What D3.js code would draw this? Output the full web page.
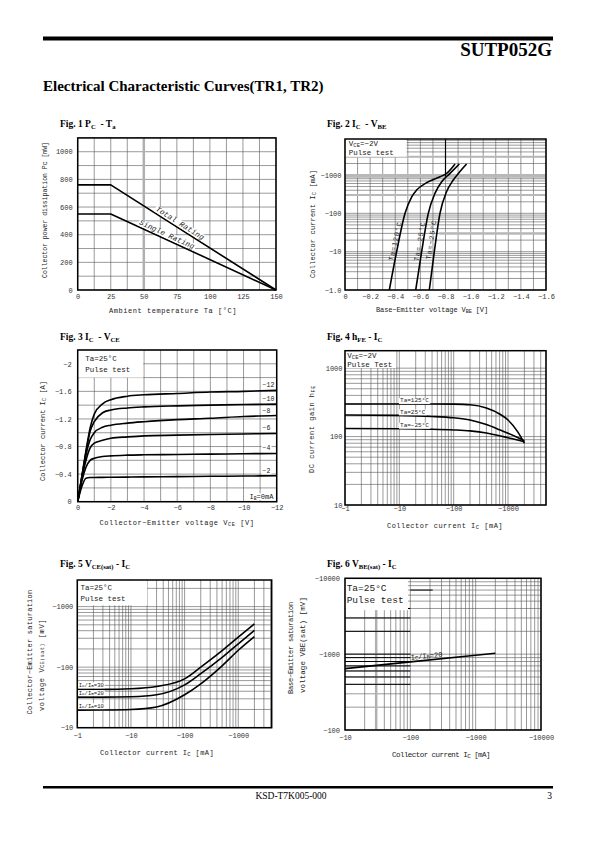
<!DOCTYPE html>
<html><head><meta charset="utf-8">
<script src="https://cdn.jsdelivr.net/npm/d3@7"></script>
<style>
body{margin:0;background:#fff}
svg{display:block}
text{white-space:pre}
</style></head><body>
<svg id="page" width="595" height="842"></svg>
<script>
// ---------------- DATA ----------------
const fig1Temp = [0, 25, 150];
const fig1Total = [760, 760, 0];
const fig1Single = [550, 550, 0];
const fig1XTicks = [0, 25, 50, 75, 100, 125, 150];
const fig1YTicks = [0, 200, 400, 600, 800, 1000];

const fig2Vbe120 = [0.353, 0.411, 0.478, 0.531, 0.570, 0.650, 0.756, 0.809, 0.876];
const fig2Ic120  = [1, 10, 100, 270, 405, 631, 900, 1100, 1940];
const fig2Vbe25  = [0.563, 0.610, 0.663, 0.716, 0.770, 0.836, 0.910];
const fig2Ic25   = [1, 10, 100, 333, 670, 1100, 1940];
const fig2VbeM25 = [0.671, 0.711, 0.756, 0.809, 0.862, 0.915, 0.968];
const fig2IcM25  = [1, 10, 100, 370, 740, 1230, 1940];
const fig2XTicks = [0, 0.2, 0.4, 0.6, 0.8, 1.0, 1.2, 1.4, 1.6];
const fig2XLabels = ["0","−0.2","−0.4","−0.6","−0.8","−1.0","−1.2","−1.4","−1.6"];
const fig2YTicks = [1, 10, 100, 1000];
const fig2YLabels = ["−1.0","−10","−100","−1000"];

const fig3Vce = [0, 0.25, 0.5, 0.75, 1, 1.5, 2, 3, 4, 6, 8, 10, 12];
const fig3Ib2  = [0, 0.22, 0.34, 0.35, 0.352, 0.353, 0.355, 0.357, 0.36, 0.364, 0.368, 0.372, 0.376];
const fig3Ib4  = [0, 0.30, 0.50, 0.60, 0.63, 0.655, 0.665, 0.675, 0.68, 0.685, 0.69, 0.695, 0.70];
const fig3Ib6  = [0, 0.33, 0.60, 0.78, 0.85, 0.89, 0.92, 0.94, 0.955, 0.965, 0.975, 0.982, 0.99];
const fig3Ib8  = [0, 0.35, 0.68, 0.90, 1.00, 1.08, 1.11, 1.14, 1.16, 1.19, 1.21, 1.235, 1.25];
const fig3Ib10 = [0, 0.36, 0.72, 1.02, 1.16, 1.29, 1.33, 1.36, 1.375, 1.39, 1.40, 1.41, 1.415];
const fig3Ib12 = [0, 0.37, 0.74, 1.07, 1.27, 1.42, 1.48, 1.53, 1.55, 1.57, 1.59, 1.60, 1.615];
const fig3IbLabels = ["−2", "−4", "−6", "−8", "−10", "−12"];
const fig3XTicks = [0, 2, 4, 6, 8, 10, 12];
const fig3XLabels = ["0","−2","−4","−6","−8","−10","−12"];
const fig3YTicks = [0, 0.4, 0.8, 1.2, 1.6, 2];
const fig3YLabels = ["0","−0.4","−0.8","−1.2","−1.6","−2"];

const fig4Ic = [1, 10, 40, 100, 200, 400, 700, 1000, 1500, 2000];
const fig4Hfe125 = [300, 300, 300, 298, 292, 262, 214, 175, 118, 80];
const fig4Hfe25  = [207, 204, 197, 188, 175, 150, 126, 112, 97, 87];
const fig4HfeM25 = [131, 130, 128, 125, 121, 113, 103, 96, 89, 84];
const fig4XTicks = [1, 10, 100, 1000];
const fig4XLabels = ["−1","−10","−100","−1000"];
const fig4YTicks = [10, 100, 1000];
const fig4YLabels = ["10","100","1000"];

const fig5Ic = [1, 3, 10, 30, 100, 200, 500, 1000, 2000];
const fig5Vce30 = [43, 43, 44, 48, 64, 100, 187, 313, 520];
const fig5Vce20 = [32, 32, 32.5, 35, 51, 78, 145, 243, 405];
const fig5Vce10 = [19.5, 19.6, 20, 22, 35, 53, 105, 190, 320];
const fig5XTicks = [1, 10, 100, 1000];
const fig5XLabels = ["−1","−10","−100","−1000"];
const fig5YTicks = [10, 100, 1000];
const fig5YLabels = ["−10","−100","−1000"];

const fig6Ic = [10, 100, 1000, 2000];
const fig6Vbe = [645, 791, 968, 1030];
const fig6XTicks = [10, 100, 1000, 10000];
const fig6XLabels = ["−10","−100","−1000","−10000"];
const fig6YTicks = [100, 1000, 10000];
const fig6YLabels = ["−100","−1000","−10000"];

// ---------------- DRAWING ----------------
const svg = d3.select("#page");
const MONO = '"Liberation Mono","DejaVu Sans Mono",monospace';
const SERIF = '"Liberation Serif","Times New Roman",serif';
const GRID = "#555";

function panel(o) {
  const x = (o.xLog ? d3.scaleLog() : d3.scaleLinear()).domain(o.xDomain).range([o.left, o.right]);
  const y = (o.yLog ? d3.scaleLog() : d3.scaleLinear()).domain(o.yDomain).range([o.bottom, o.top]);
  const g = svg.append("g");
  const grid = g.append("g");
  const xg = o.xGrid || x.ticks();
  const yg = o.yGrid || y.ticks();
  grid.selectAll("line.v").data(xg).join("line").attr("class", "v")
    .attr("x1", d => x(d)).attr("x2", d => x(d)).attr("y1", o.top).attr("y2", o.bottom)
    .attr("stroke", GRID).attr("stroke-width", 0.6);
  grid.selectAll("line.h").data(yg).join("line").attr("class", "h")
    .attr("y1", d => y(d)).attr("y2", d => y(d)).attr("x1", o.left).attr("x2", o.right)
    .attr("stroke", GRID).attr("stroke-width", 0.6);
  const xa = g.append("g").attr("transform", `translate(0,${o.bottom})`)
    .call(d3.axisBottom(x).tickValues(o.xTicks).tickFormat((d, i) => o.xLabels[i]).tickSize(0).tickPadding(o.xPad));
  xa.select(".domain").remove();
  xa.selectAll("text").attr("font-family", MONO).attr("font-size", o.tf || 7).attr("fill", "#333");
  const ya = g.append("g").attr("transform", `translate(${o.left},0)`)
    .call(d3.axisLeft(y).tickValues(o.yTicks).tickFormat((d, i) => o.yLabels[i]).tickSize(0).tickPadding(o.yPad));
  ya.select(".domain").remove();
  ya.selectAll("text").attr("font-family", MONO).attr("font-size", o.tf || 7).attr("fill", "#333");
  const p = { x, y, g, grid, o };
  p.frame = () => g.append("rect").attr("x", o.left).attr("y", o.top)
    .attr("width", o.right - o.left).attr("height", o.bottom - o.top)
    .attr("fill", "none").attr("stroke", "#000").attr("stroke-width", 1.5);
  p.box = (x1, y1) => g.append("rect").attr("x", o.left + 0.5).attr("y", o.top + 0.5)
    .attr("width", x(x1) - o.left - 0.5).attr("height", y(y1) - o.top - 0.5).attr("fill", "#fff");
  p.curve = (xs, ys, smooth) => g.append("path")
    .datum(ys)
    .attr("d", d3.line().x((d, i) => x(xs[i])).y(d => y(d)).curve(smooth ? d3.curveMonotoneX : d3.curveLinear))
    .attr("fill", "none").attr("stroke", "#000").attr("stroke-width", 1.6).attr("stroke-linejoin", "round");
  return p;
}

// text helper: parts = string or [[text, sub], ...]
function label(parent, x, y, parts, opt = {}) {
  const g = parent.append("g").attr("transform", `translate(${x},${y}) rotate(${opt.rot || 0})`);
  const t = g.append("text").attr("font-family", opt.family || MONO).attr("font-size", opt.size || 7)
    .attr("text-anchor", opt.anchor || "start").attr("fill", opt.fill || "#222");
  if (opt.weight) t.attr("font-weight", opt.weight);
  if (opt.style) t.attr("font-style", opt.style);
  if (opt.dy) t.attr("dy", opt.dy);
  let nChars = 0;
  if (typeof parts === "string") { t.text(parts); nChars = parts.length; }
  else {
    let shift = 0;
    parts.forEach(([s, sub]) => {
      const ts = t.append("tspan").text(s);
      nChars += s.length;
      const target = sub ? (opt.subShift || 2) : 0;
      if (target !== shift) { ts.attr("dy", target - shift); shift = target; }
      if (sub) ts.attr("font-size", (opt.size || 7) * (opt.subScale || 0.68));
    });
  }
  if (opt.len) {
    const w = t.node().getComputedTextLength();
    t.attr("letter-spacing", ((opt.len - w) / nChars).toFixed(3));
  }
  if (opt.bg) {
    const b = t.node().getBBox();
    g.insert("rect", "text").attr("x", b.x - 1).attr("y", b.y + 0.5).attr("width", b.width + 2)
      .attr("height", b.height - 1).attr("fill", "#fff");
  }
  return t;
}

// ---------- header / footer ----------
svg.append("rect").attr("x", 43).attr("y", 36.5).attr("width", 510).attr("height", 4).attr("fill", "#000");
label(svg, 552, 56, "SUTP052G", { family: SERIF, weight: "bold", size: 19, anchor: "end", fill: "#000" });
label(svg, 43, 91, "Electrical Characteristic Curves(TR1, TR2)", { family: SERIF, weight: "bold", size: 15, fill: "#000" });
svg.append("rect").attr("x", 43).attr("y", 786).attr("width", 510).attr("height", 2.5).attr("fill", "#000");
label(svg, 291, 799, "KSD-T7K005-000", { family: SERIF, size: 9.5, anchor: "middle", fill: "#000" });
label(svg, 552, 799, "3", { family: SERIF, size: 9.5, anchor: "end", fill: "#000" });

const TT = { family: SERIF, weight: "bold", size: 9.5, fill: "#000", subShift: 1.5, subScale: 0.7 };
label(svg, 60, 127, [["Fig. 1 P"], ["C", 1], ["  - T"], ["a", 1]], TT);
label(svg, 327, 127, [["Fig. 2 I"], ["C", 1], ["  - V"], ["BE", 1]], TT);
label(svg, 60, 340, [["Fig. 3 I"], ["C", 1], ["  - V"], ["CE", 1]], TT);
label(svg, 327, 340, [["Fig. 4 h"], ["FE", 1], [" - I"], ["C", 1]], TT);
label(svg, 60, 567, [["Fig. 5 V"], ["CE(sat)", 1], [" - I"], ["C", 1]], TT);
label(svg, 327, 567, [["Fig. 6 V"], ["BE(sat)", 1], [" - I"], ["C", 1]], TT);

// ---------- Fig 1 ----------
{
  const p = panel({ left: 77.7, right: 276, top: 137.9, bottom: 290, xDomain: [0, 150], yDomain: [0, 1100],
    xGrid: d3.range(0, 150.1, 12.5), yGrid: d3.range(0, 1100.1, 100),
    xTicks: fig1XTicks, xLabels: fig1XTicks.map(String), yTicks: fig1YTicks, yLabels: fig1YTicks.map(String), xPad: 4, yPad: 5 });
  p.grid.append("line").attr("x1", p.x(50)).attr("x2", p.x(50)).attr("y1", p.o.top).attr("y2", p.o.bottom)
    .attr("stroke", "#b0b0b0").attr("stroke-width", 2.5);
  p.curve(fig1Temp, fig1Total);
  p.curve(fig1Temp, fig1Single);
  const ang = (ys) => Math.atan2(p.y(ys[2]) - p.y(ys[1]), p.x(fig1Temp[2]) - p.x(fig1Temp[1])) * 180 / Math.PI;
  const onLine = (ys, t) => ys[1] * (fig1Temp[2] - t) / (fig1Temp[2] - fig1Temp[1]);
  label(p.g, p.x(75.5), p.y(onLine(fig1Total, 75.5)), "Total Rating", { rot: ang(fig1Total), anchor: "middle", size: 7.5, style: "italic", dy: -2.5, len: 56, bg: true });
  label(p.g, p.x(66), p.y(onLine(fig1Single, 66)), "Single Rating", { rot: ang(fig1Single), anchor: "middle", size: 7.5, style: "italic", dy: -2.5, len: 60, bg: true });
  p.frame();
  label(svg, 173, 313, "Ambient temperature Ta [°C]", { anchor: "middle", size: 7, len: 128 });
  label(svg, 47, 210, "Collector power dissipation Pc [mW]", { anchor: "middle", size: 6.5, rot: -90, len: 136 });
}

// ---------- Fig 2 ----------
{
  const p = panel({ left: 345, right: 546, top: 139, bottom: 290, xDomain: [0, 1.6], yLog: true, yDomain: [1, 8700],
    xGrid: d3.range(0, 1.601, 0.1),
    xTicks: fig2XTicks, xLabels: fig2XLabels, yTicks: fig2YTicks, yLabels: fig2YLabels, xPad: 4, yPad: 3.5 });
  [3000, 1000, 900, 300].forEach(v => p.grid.append("line").attr("x1", p.o.left).attr("x2", p.o.right)
    .attr("y1", p.y(v)).attr("y2", p.y(v)).attr("stroke", "#b8b8b8").attr("stroke-width", 2));
  p.grid.append("line").attr("x1", p.x(0.75)).attr("x2", p.o.right).attr("y1", p.y(30)).attr("y2", p.y(30))
    .attr("stroke", "#b8b8b8").attr("stroke-width", 2.5);
  p.grid.append("line").attr("x1", p.x(0.8)).attr("x2", p.x(0.8)).attr("y1", p.o.top).attr("y2", p.y(900))
    .attr("stroke", "#000").attr("stroke-width", 1.2);
  p.box(0.49, 3000);
  label(p.g, p.x(0.03), p.o.top + 7, [["V"], ["CE", 1], ["=−2V"]], { size: 7.5, subScale: 0.75, subShift: 1 });
  label(p.g, p.x(0.03), p.o.top + 15.5, "Pulse test", { size: 7.5 });
  p.curve(fig2Vbe120, fig2Ic120, true);
  p.curve(fig2Vbe25, fig2Ic25, true);
  p.curve(fig2VbeM25, fig2IcM25, true);
  const ang = (vs, is) => Math.atan2(p.y(is[2]) - p.y(is[1]), p.x(vs[2]) - p.x(vs[1])) * 180 / Math.PI;
  label(p.g, p.x(0.425), p.y(18), "Ta=120°C", { rot: ang(fig2Vbe120, fig2Ic120), anchor: "middle", size: 7, dy: -1, len: 40 });
  label(p.g, p.x(0.62), p.y(18), "Ta= 25°C", { rot: ang(fig2Vbe25, fig2Ic25), anchor: "middle", size: 7, dy: -1, len: 40 });
  label(p.g, p.x(0.712), p.y(20), "Ta=−25°C", { rot: ang(fig2VbeM25, fig2IcM25), anchor: "middle", size: 7, dy: -1, len: 40 });
  p.frame();
  label(svg, 432, 312, [["Base−Emitter voltage V"], ["BE", 1], [" [V]"]], { anchor: "middle", size: 7, len: 112, subShift: 0.5, subScale: 0.75 });
  label(svg, 315, 224, [["Collector current I"], ["C", 1], [" [mA]"]], { anchor: "middle", size: 7, rot: -90, len: 108, subShift: 0.5, subScale: 0.8 });
}

// ---------- Fig 3 ----------
{
  const p = panel({ left: 77.7, right: 276.7, top: 350, bottom: 501.7, xDomain: [0, 12], yDomain: [0, 2.2],
    xGrid: d3.range(0, 12.01, 1), yGrid: d3.range(0, 2.201, 0.2),
    xTicks: fig3XTicks, xLabels: fig3XLabels, yTicks: fig3YTicks, yLabels: fig3YLabels, xPad: 3.5, yPad: 6 });
  p.box(3.95, 1.8);
  label(p.g, p.x(0.45), p.o.top + 10.5, "Ta=25°C", { size: 7.5 });
  label(p.g, p.x(0.45), p.o.top + 21.5, "Pulse test", { size: 7.5 });
  const series = [fig3Ib2, fig3Ib4, fig3Ib6, fig3Ib8, fig3Ib10, fig3Ib12];
  series.forEach(s => p.curve(fig3Vce, s, true));
  series.forEach((s, i) => label(p.g, p.x(11.15), p.y(s[s.length - 1]) - 3, fig3IbLabels[i], { size: 6.5, bg: true }));
  label(p.g, p.x(11.8), p.o.bottom - 3, [["I"], ["B", 1], ["=0mA"]], { size: 7, anchor: "end", bg: true, subShift: 1 });
  p.frame();
  label(svg, 177, 525, [["Collector−Emitter voltage V"], ["CE", 1], [" [V]"]], { anchor: "middle", size: 7, len: 155, subShift: 0.5, subScale: 0.75 });
  label(svg, 45, 431, [["Collector current I"], ["C", 1], [" [A]"]], { anchor: "middle", size: 7, rot: -90, len: 100, subShift: 0.5, subScale: 0.8 });
}

// ---------- Fig 4 ----------
{
  const p = panel({ left: 345, right: 546, top: 350.7, bottom: 505, xLog: true, xDomain: [1, 5000], yLog: true, yDomain: [10, 1800],
    xTicks: fig4XTicks, xLabels: fig4XLabels, yTicks: fig4YTicks, yLabels: fig4YLabels, xPad: 1, yPad: 2.5 });
  p.box(8.7, 1000);
  label(p.g, p.x(1.1), p.o.top + 7.5, [["V"], ["CE", 1], ["=−2V"]], { size: 7.5, subScale: 0.75, subShift: 1 });
  label(p.g, p.x(1.1), p.o.top + 16.5, "Pulse Test", { size: 7.5 });
  p.curve(fig4Ic, fig4Hfe125, true);
  p.curve(fig4Ic, fig4Hfe25, true);
  p.curve(fig4Ic, fig4HfeM25, true);
  label(p.g, p.x(10.3), p.y(fig4Hfe125[1]) - 1.5, "Ta=125°C", { size: 6, bg: true });
  label(p.g, p.x(10.3), p.y(fig4Hfe25[1]) - 1.5, "Ta=25°C", { size: 6, bg: true });
  label(p.g, p.x(10.3), p.y(fig4HfeM25[1]) - 1.5, "Ta=−25°C", { size: 6, bg: true });
  p.frame();
  label(svg, 445, 528, [["Collector current I"], ["C", 1], [" [mA]"]], { anchor: "middle", size: 7, len: 116, subShift: 0.5, subScale: 0.8 });
  label(svg, 314, 429, [["DC current gain h"], ["FE", 1]], { anchor: "middle", size: 7, rot: -90, len: 88, subShift: 0.5, subScale: 0.75 });
}

// ---------- Fig 5 ----------
{
  const p = panel({ left: 77.3, right: 271.7, top: 580, bottom: 727.7, xLog: true, xDomain: [1, 4200], yLog: true, yDomain: [10, 2750],
    xTicks: fig5XTicks, xLabels: fig5XLabels, yTicks: fig5YTicks, yLabels: fig5YLabels, xPad: 5, yPad: 4 });
  p.box(20, 1050);
  label(p.g, p.x(1.15), p.o.top + 10, "Ta=25°C", { size: 7.5 });
  label(p.g, p.x(1.15), p.o.top + 20.5, "Pulse test", { size: 7.5 });
  p.curve(fig5Ic, fig5Vce30, true);
  p.curve(fig5Ic, fig5Vce20, true);
  p.curve(fig5Ic, fig5Vce10, true);
  label(p.g, p.x(1.06), p.y(fig5Vce30[0]) - 2.5, [["I"], ["C", 1], ["/I"], ["B", 1], ["=30"]], { size: 5.5, bg: true, subShift: 0.5, subScale: 0.8 });
  label(p.g, p.x(1.06), p.y(fig5Vce20[0]) - 2.5, [["I"], ["C", 1], ["/I"], ["B", 1], ["=20"]], { size: 5.5, bg: true, subShift: 0.5, subScale: 0.8 });
  label(p.g, p.x(1.06), p.y(fig5Vce10[0]) - 2.5, [["I"], ["C", 1], ["/I"], ["B", 1], ["=10"]], { size: 5.5, bg: true, subShift: 0.5, subScale: 0.8 });
  p.frame();
  label(svg, 157, 755, [["Collector current I"], ["C", 1], [" [mA]"]], { anchor: "middle", size: 7, len: 114, subShift: 0.5, subScale: 0.8 });
  label(svg, 32, 652, "Collector−Emitter saturation", { anchor: "middle", size: 7, rot: -90, len: 125 });
  label(svg, 43.5, 665, [["voltage V"], ["CE(sat)", 1], [" [mV]"]], { anchor: "middle", size: 7, rot: -90, len: 92, subShift: 0.5, subScale: 0.7 });
}

// ---------- Fig 6 ----------
{
  const p = panel({ left: 345, right: 541, top: 578.3, bottom: 730, xLog: true, xDomain: [10, 10000], yLog: true, yDomain: [100, 10000],
    xTicks: fig6XTicks, xLabels: fig6XLabels, yTicks: fig6YTicks, yLabels: fig6YLabels, xPad: 5, yPad: 5 });
  p.grid.append("line").attr("x1", p.x(30)).attr("x2", p.x(30)).attr("y1", p.o.top).attr("y2", p.o.bottom)
    .attr("stroke", "#b0b0b0").attr("stroke-width", 2.5);
  p.grid.selectAll("line.dk").data([400, 500, 600, 700, 800, 900, 1000, 2000, 3000, 4000]).join("line").attr("class", "dk")
    .attr("x1", p.o.left).attr("x2", p.x(100)).attr("y1", d => p.y(d)).attr("y2", d => p.y(d))
    .attr("stroke", "#000").attr("stroke-width", 1);
  p.grid.append("line").attr("x1", p.x(100)).attr("x2", p.x(220)).attr("y1", p.y(7000)).attr("y2", p.y(7000))
    .attr("stroke", "#000").attr("stroke-width", 1);
  p.box(92, 3800);
  label(p.g, p.x(10.6), p.o.top + 13, "Ta=25°C", { size: 9.5 });
  label(p.g, p.x(10.6), p.o.top + 25, "Pulse test", { size: 9.5 });
  p.curve(fig6Ic, fig6Vbe);
  const ang = Math.atan2(p.y(fig6Vbe[3]) - p.y(fig6Vbe[0]), p.x(fig6Ic[3]) - p.x(fig6Ic[0])) * 180 / Math.PI;
  const vAt = 10 ** (Math.log10(fig6Vbe[1]) + (Math.log10(fig6Vbe[2]) - Math.log10(fig6Vbe[1])) * Math.log10(1.02));
  label(p.g, p.x(102), p.y(vAt) - 2, [["I"], ["C", 1], ["/I"], ["B", 1], ["=20"]], { size: 7, rot: ang, subShift: 0.5, subScale: 0.8 });
  p.frame();
  label(svg, 441, 757, [["Collector current I"], ["C", 1], [" [mA]"]], { anchor: "middle", size: 7.5, len: 98, subShift: 0.5, subScale: 0.8 });
  label(svg, 293, 648, "Base−Emitter saturation", { anchor: "middle", size: 7, rot: -90, len: 92 });
  label(svg, 305, 645, "voltage VBE(sat) [mV]", { anchor: "middle", size: 7.5, rot: -90, len: 96 });
}
</script>
</body></html>
